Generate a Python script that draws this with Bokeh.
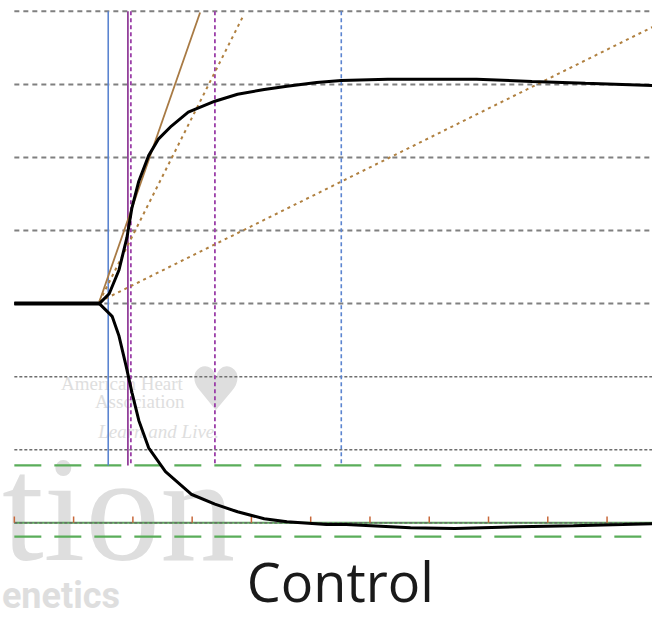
from bokeh.plotting import figure
from bokeh.models import Range1d
from bokeh.core.properties import value
from bokeh.embed import file_html
from bokeh.resources import INLINE

# time in minutes, amplitude in mm (signed displacement from baseline)
t_upper = [0, 7.17, 8.0, 8.83, 9.5, 9.92, 10.5, 11.33, 12.17, 13.25, 14.67, 16.92, 18.83, 21.08, 23.0, 25.5, 27.58, 31.5, 39.0, 43.67, 48.17, 53.83]
a_upper = [0, 0, 2.7, 9.2, 18.1, 26.2, 33.5, 40.5, 45.1, 48.6, 52.4, 55.4, 57.3, 58.6, 59.5, 60.5, 61.1, 61.4, 61.4, 60.8, 60.3, 59.7]
t_lower = [7.17, 8.0, 8.25, 8.83, 9.42, 9.92, 10.5, 11.33, 12.75, 14.92, 16.92, 18.83, 21.08, 23.0, 26.33, 28.0, 33.42, 37.17, 42.58, 47.17, 51.33, 53.83]
a_lower = [0, -2.7, -3.5, -8.9, -17.0, -24.3, -32.0, -39.5, -46.0, -52.2, -54.9, -57.0, -58.9, -59.7, -60.5, -60.5, -61.4, -61.6, -61.1, -60.8, -60.5, -60.3]

grid_levels = [80, 60, 40, 20, 0]
grid_levels_fine = [-20, -40, -60]
green_dashed = [-44.3, -63.8]
green_solid = -60
tick_times = [0, 5, 10, 15, 20, 25, 30, 35, 40, 45, 50]

R_time = 7.92
K_solid = 9.58
K_dashed = 9.83
alpha_time = 16.92
MA_time = 27.58
marker_top, marker_bottom = 80, -44.3

tangent_solid = ([7.17, 15.67], [0.5, 79.7])
tangent_dot1 = ([7.17, 19.33], [0.5, 78.9])
tangent_dot2 = ([7.17, 53.83], [0.5, 75.7])

label = "Control"
T_END = 53.83

p = figure(width=652, height=619, x_range=Range1d(-1.167, 53.833), y_range=Range1d(-86.49, 82.97),
           min_border=0, output_backend="svg", toolbar_location=None)
p.axis.visible = False
p.grid.visible = False
p.outline_line_color = None

# watermark
wm = "#dedede"
p.text(x=[-1.05], y=[-56.2], text=["tion"], text_font=value("Liberation Serif"), text_font_size="150px",
       text_color=wm, text_baseline="middle", text_align="left")
p.text(x=[-1.05], y=[-80.0], text=["enetics"], text_font=value("Roboto"), text_font_style="bold",
       text_font_size="36px", text_color=wm, text_baseline="middle", text_align="left")
p.text(x=[9.08], y=[-21.9], text=["American Heart"], text_font=value("Liberation Serif"), text_font_size="19px",
       text_color=wm, text_baseline="middle", text_align="center")
p.text(x=[10.58], y=[-26.8], text=["Association"], text_font=value("Liberation Serif"), text_font_size="19px",
       text_color=wm, text_baseline="middle", text_align="center")
p.text(x=[12.17], y=[-35.1], text=["Learn and Live."], text_font=value("Liberation Serif"), text_font_style="italic",
       text_font_size="19px", text_color=wm, text_baseline="middle", text_align="center")
p.text(x=[17.0], y=[-23.5], text=["\u2665"], text_font=value("DejaVu Sans"), text_font_size="60px",
       text_color=wm, text_baseline="middle", text_align="center")

# grid
for g in grid_levels:
    p.line([0, T_END], [g, g], line_color="#808080", line_width=2, line_dash="5 4")
for g in grid_levels_fine:
    p.line([0, T_END], [g, g], line_color="#6e6e6e", line_width=1.5, line_dash="3 2")

# green reference lines
for g in green_dashed:
    p.line([0, T_END], [g, g], line_color="#5aad5a", line_width=2.2, line_dash="27 13")
p.line([0, T_END], [green_solid, green_solid], line_color="#5aad5a", line_width=2)
p.line([0, T_END], [green_solid, green_solid], line_color="#6a6a6a", line_width=1.3, line_dash="3 2")
p.segment(x0=tick_times, y0=[green_solid] * len(tick_times), x1=tick_times,
          y1=[green_solid + 1.7] * len(tick_times), line_color="#c8683a", line_width=1.5)

# markers
p.line([R_time, R_time], [marker_top, marker_bottom], line_color="#5b84d0", line_width=1.6)
p.line([K_solid, K_solid], [marker_top, marker_bottom], line_color="#93409a", line_width=1.8)
p.line([K_dashed, K_dashed], [marker_top, marker_bottom], line_color="#9b3fa8", line_width=1.8, line_dash="4 3")
p.line([alpha_time, alpha_time], [marker_top, marker_bottom], line_color="#9b3fa8", line_width=1.8, line_dash="4 3")
p.line([MA_time, MA_time], [marker_top, marker_bottom], line_color="#5b84d0", line_width=1.6, line_dash="4 3")

# tangents
p.line(tangent_solid[0], tangent_solid[1], line_color="#a87a44", line_width=1.8)
p.line(tangent_dot1[0], tangent_dot1[1], line_color="#b08040", line_width=2, line_dash="3 4")
p.line(tangent_dot2[0], tangent_dot2[1], line_color="#b08040", line_width=2, line_dash="3 4")

# trace
p.line(t_upper, a_upper, line_color="black", line_width=3)
p.line(t_lower, a_lower, line_color="black", line_width=3)
p.line(t_upper[:2], a_upper[:2], line_color="black", line_width=4)

p.text(x=[27.5], y=[-76.0], text=[label], text_font=value("Open Sans"), text_font_size="54px",
       text_color="#1a1a1a", text_baseline="middle", text_align="center")

open("out.html", "w").write(file_html(p, INLINE))
